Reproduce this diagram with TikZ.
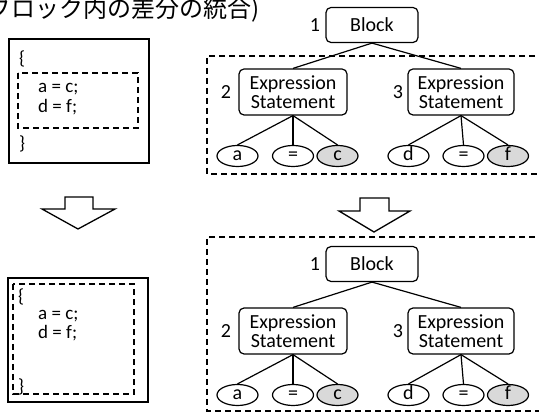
\documentclass[tikz,border=0pt]{standalone}
\usepackage{fontspec}
\setmainfont{Carlito}
\newfontfamily\jpfont{Noto Sans CJK JP}
\usetikzlibrary{shapes.geometric}
\definecolor{leafgray}{RGB}{217,217,217}
\tikzset{
  tbox/.style={draw, rounded corners=5pt, line width=1.2pt, inner sep=0pt, align=center,
    font=\fontsize{20}{19}\selectfont},
  blockbox/.style={tbox, minimum width=92pt, minimum height=35pt},
  esbox/.style={tbox, minimum width=108pt, minimum height=46pt},
  leaf/.style={draw, ellipse, line width=1.2pt, inner sep=0pt, minimum width=41pt, minimum height=21pt,
    text height=10pt, text depth=0pt, font=\fontsize{20}{20}\selectfont},
  gleaf/.style={leaf, fill=leafgray},
  num/.style={inner sep=0pt, font=\fontsize{20}{20}\selectfont},
  edge/.style={line width=1.2pt},
  dbox/.style={line width=1.3pt, dash pattern=on 6pt off 4pt},
  sbox/.style={line width=1.4pt},
  codetxt/.style={inner sep=0pt, anchor=base west, font=\fontsize{19}{19}\selectfont},
  bracetxt/.style={inner sep=0pt, anchor=west, font=\fontsize{19}{19}\selectfont},
  hollow/.style={draw, fill=white, line width=1.3pt, line join=miter}
}
\begin{document}
\begin{tikzpicture}[x=1pt, y=-1pt]
\useasboundingbox (0,0) rectangle (539,419);
% title
\node[inner sep=0pt, anchor=base west, font=\jpfont\fontsize{24}{26}\selectfont] (title) at (-13,18) {ブロック内の差分の統合)};

% ---- top left code box
\draw[sbox] (9,39) rectangle (149,163);
\draw[dbox] (18,73) rectangle (138,128);
\node[bracetxt] (tl1) at (19,58.5) {\{};
\node[codetxt] (tl2) at (38,93) {a = c;};
\node[codetxt] (tl3) at (38,113) {d = f;};
\node[bracetxt] (tl4) at (19,143.5) {\}};

% ---- bottom left code box
\draw[sbox] (8,278) rectangle (148,402);
\draw[dbox] (13,284) rectangle (134,394);
\node[bracetxt] (bl1) at (18,296.5) {\{};
\node[codetxt] (bl2) at (38,320) {a = c;};
\node[codetxt] (bl3) at (38,339) {d = f;};
\node[bracetxt] (bl4) at (18,386.5) {\}};

% ---- arrows
\draw[hollow] (65,197) -- (93,197) -- (93,209) -- (115,209) -- (78,229) -- (42,209) -- (65,209) -- cycle;
\draw[hollow] (360,198) -- (389,198) -- (389,211) -- (410,211) -- (374,232) -- (339,211) -- (360,211) -- cycle;

% ---- trees
\foreach \dy/\p in {0/t, 239/b} {
  \begin{scope}[yshift=-\dy pt]
    \node[blockbox] (\p blk) at (372,25) {Block};
    \node[num] (\p n1) at (315,25) {1};
    \node[esbox] (\p es2) at (293,92) {Expression\\Statement};
    \node[num] (\p n2) at (226,92) {2};
    \node[esbox, minimum width=106pt] (\p es3) at (461,92) {Expression\\Statement};
    \node[num] (\p n3) at (398,92) {3};
    \node[leaf] (\p a) at (237.5,156) {a};
    \node[leaf] (\p eq1) at (293,156) {=};
    \node[gleaf] (\p c) at (337.5,156) {c};
    \node[leaf] (\p d) at (408.5,156) {d};
    \node[leaf] (\p eq2) at (463.5,156) {=};
    \node[gleaf] (\p f) at (508,156) {f};
    \draw[edge] (\p blk.south) -- (\p es2.north);
    \draw[edge] (\p blk.south) -- (\p es3.north);
    \draw[edge] (\p es2.south) -- (\p a.north);
    \draw[edge] (\p es2.south) -- (\p eq1.north);
    \draw[edge] (\p es2.south) -- (\p c.north);
    \draw[edge] (\p es3.south) -- (\p d.north);
    \draw[edge] (\p es3.south) -- (\p eq2.north);
    \draw[edge] (\p es3.south) -- (\p f.north);
  \end{scope}
}
\draw[dbox] (545,56) -- (207,56) -- (207,174) -- (545,174);
\draw[dbox] (545,237) -- (207,237) -- (207,411) -- (545,411);
\end{tikzpicture}
\end{document}
